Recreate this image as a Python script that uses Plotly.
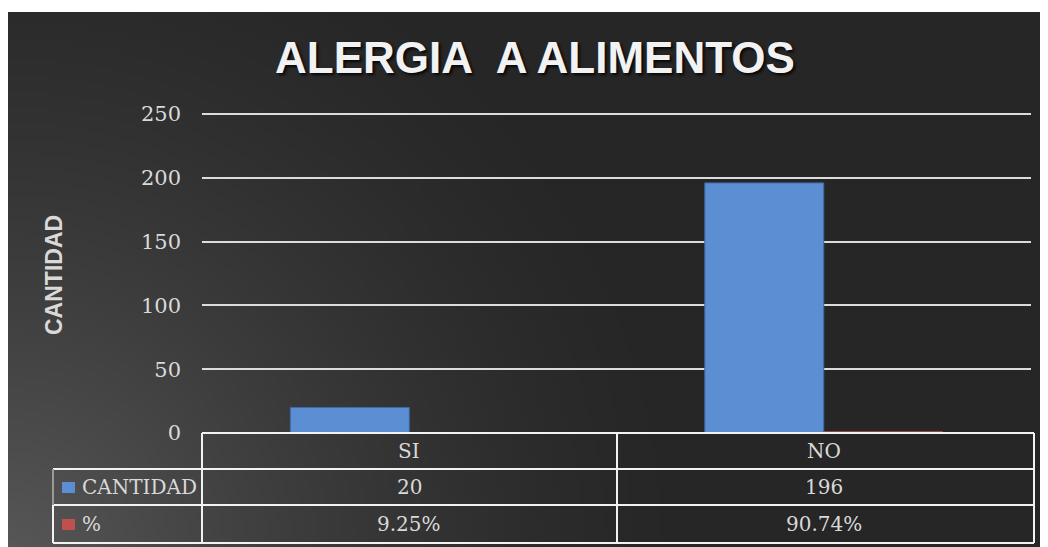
import base64
import struct
import zlib

import plotly.graph_objects as go

# ── data ────────────────────────────────────────────────
categorias = ["SI", "NO"]
cantidad = [20, 196]
porcentaje = [9.25, 90.74]  # shown in the table as "%"
y_ticks = [0, 50, 100, 150, 200, 250]

TITLE = "ALERGIA\u00a0 A ALIMENTOS"
Y_TITLE = "CANTIDAD"
SERIES = ["CANTIDAD", "%"]
COLORS = ["#5b8ed3", "#c0504d"]
TXT = "#d9d9d9"
SERIF = "DejaVu Serif"


# ── background gradient (dark, lighter toward lower-left) ──
def gradient_png(w, h):
    def chunk(tag, data):
        c = struct.pack(">I", len(data)) + tag + data
        return c + struct.pack(">I", zlib.crc32(tag + data) & 0xFFFFFFFF)

    R = 700.0
    raw = bytearray()
    for j in range(h):
        raw.append(0)
        py = j * 535.0 / h
        for i in range(w):
            px = i * 1040.0 / w
            d = (px ** 2 + (535.0 - py) ** 2) ** 0.5
            t = max(0.0, 1 - d / R) ** 1.5
            v = int(38 + 50 * t)
            raw += bytes((v, v, v))
    png = b"\x89PNG\r\n\x1a\n"
    png += chunk(b"IHDR", struct.pack(">IIBBBBB", w, h, 8, 2, 0, 0, 0))
    png += chunk(b"IDAT", zlib.compress(bytes(raw), 9))
    png += chunk(b"IEND", b"")
    return "data:image/png;base64," + base64.b64encode(png).decode()


fig = go.Figure()
fig.add_trace(go.Bar(
    x=categorias, y=cantidad, name=SERIES[0],
    marker=dict(color=COLORS[0], line=dict(color="#3d6aa3", width=1)),
))
fig.add_trace(go.Bar(
    x=categorias, y=[p / 100 for p in porcentaje], name=SERIES[1],
    marker=dict(color=COLORS[1], line=dict(color="#c0504d", width=1)),
))

# plot area on screen (page adds an 8px body margin): x 202..1031, y 111..433
# y range is padded a little so the 250 gridline is still drawn at y=114
PLOT_H = 322
Y_MAX = 250 * PLOT_H / 319.0


def px_x(px):
    return (px - 202) / 829.0


def px_y(py):
    return (433 - py) / float(PLOT_H)


fig.update_layout(
    width=1048, height=547, autosize=False,
    margin=dict(l=194, r=25, t=103, b=122),
    paper_bgcolor="white",
    plot_bgcolor="rgba(0,0,0,0)",
    showlegend=False,
    bargap=0.426, bargroupgap=0,
    images=[dict(
        source=gradient_png(260, 134), xref="paper", yref="paper",
        x=px_x(8), y=px_y(12), sizex=px_x(1056) - px_x(8),
        sizey=px_y(12) - px_y(555), sizing="stretch",
        xanchor="left", yanchor="top", layer="below",
    )],
    xaxis=dict(showticklabels=False, showgrid=False, zeroline=False,
               showline=False, ticks=""),
    yaxis=dict(range=[0, Y_MAX], tickvals=y_ticks, showgrid=True,
               gridcolor="#dcdcdc", gridwidth=2, zeroline=False,
               showline=False, ticks="", ticklabelstandoff=20,
               tickfont=dict(family=SERIF, size=21, color=TXT)),
)

ann = [
    dict(text=f"<b>{TITLE}</b>", xref="paper", yref="paper",
         x=px_x(535), y=px_y(57.5), xanchor="center", yanchor="middle",
         showarrow=False,
         font=dict(family="Liberation Sans", size=44, color="#f2f2f2",
                   shadow="2px 2px 3px rgba(0,0,0,0.85)")),
    dict(text=f"<b>{Y_TITLE}</b>", xref="paper", yref="paper",
         x=px_x(54), y=px_y(275), xanchor="center", yanchor="middle",
         showarrow=False, textangle=-90,
         font=dict(family="Liberation Sans", size=23, color=TXT)),
]

# ── data table under the plot ──────────────────────────
row_y = [px_y(451), px_y(487), px_y(524)]
cell_font = dict(family=SERIF, size=20, color=TXT)
for i, cat in enumerate(categorias):
    for r, txt in enumerate((cat, str(cantidad[i]), f"{porcentaje[i]:.2f}%")):
        ann.append(dict(text=txt, xref="x", yref="paper", x=cat, y=row_y[r],
                        xanchor="center", yanchor="middle", showarrow=False,
                        font=cell_font))
for k, name in enumerate(SERIES):
    ann.append(dict(text=name, xref="paper", yref="paper", x=px_x(80),
                    y=row_y[k + 1], xanchor="left", yanchor="middle",
                    showarrow=False, font=cell_font))
fig.update_layout(annotations=ann)

line = dict(color="#f2f2f2", width=2)
shapes = []
# horizontal rules
shapes.append(dict(type="line", xref="paper", yref="paper",
                   x0=px_x(202), x1=px_x(1034), y0=px_y(433), y1=px_y(433), line=line))
for py in (469, 505, 543):
    shapes.append(dict(type="line", xref="paper", yref="paper",
                       x0=px_x(53), x1=px_x(1034), y0=px_y(py), y1=px_y(py), line=line))
# vertical rules
for px in (202, 617, 1034):
    shapes.append(dict(type="line", xref="paper", yref="paper",
                       x0=px_x(px), x1=px_x(px), y0=px_y(433), y1=px_y(543), line=line))
shapes.append(dict(type="line", xref="paper", yref="paper",
                   x0=px_x(53), x1=px_x(53), y0=px_y(469), y1=px_y(505),
                   line=dict(color="#9a9a9a", width=2)))
shapes.append(dict(type="line", xref="paper", yref="paper",
                   x0=px_x(53), x1=px_x(53), y0=px_y(505), y1=px_y(543), line=line))
# legend keys
for k, c in enumerate(COLORS):
    cy = 487 + 37 * k
    shapes.append(dict(type="rect", xref="paper", yref="paper",
                       x0=px_x(62), x1=px_x(75), y0=px_y(cy + 6), y1=px_y(cy - 5),
                       fillcolor=c, line=dict(width=0)))
fig.update_layout(shapes=shapes)

fig.write_html("out.html")
